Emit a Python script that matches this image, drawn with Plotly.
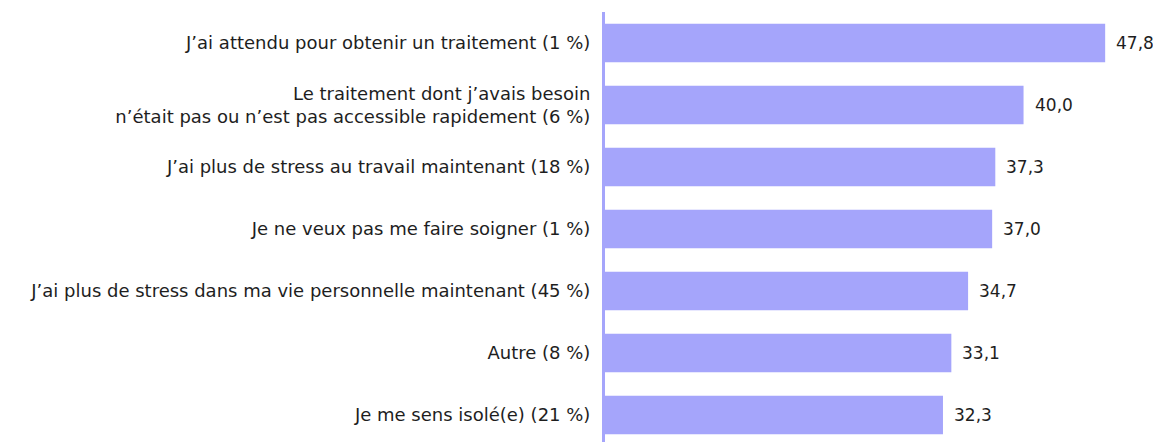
import plotly.graph_objects as go

categories = [
    "J’ai attendu pour obtenir un traitement (1 %)",
    "Le traitement dont j’avais besoin<br>n’était pas ou n’est pas accessible rapidement (6 %)",
    "J’ai plus de stress au travail maintenant (18 %)",
    "Je ne veux pas me faire soigner (1 %)",
    "J’ai plus de stress dans ma vie personnelle maintenant (45 %)",
    "Autre (8 %)",
    "Je me sens isolé(e) (21 %)",
]
values = [47.8, 40.0, 37.3, 37.0, 34.7, 33.1, 32.3]

BAR_COLOR = "#a5a5fb"
TEXT_COLOR = "#1e1e1e"
FONT = "DejaVu Sans, Arial, sans-serif"
FONT_SIZE = 18

positions = list(range(len(categories)))

fig = go.Figure(
    go.Bar(
        x=values,
        y=positions,
        orientation="h",
        marker={"color": BAR_COLOR, "line": {"width": 0}},
        hoverinfo="skip",
    )
)

# value labels just past the end of each bar
for pos, val in zip(positions, values):
    fig.add_annotation(
        x=val,
        y=pos,
        xref="x",
        yref="y",
        text=f"{val:.1f}".replace(".", ","),
        showarrow=False,
        xanchor="left",
        xshift=9,
        font={"size": 17, "color": TEXT_COLOR, "family": FONT},
    )

fig.update_layout(
    width=1161,
    height=442,
    paper_bgcolor="white",
    plot_bgcolor="white",
    bargap=0.38,
    showlegend=False,
    margin={"l": 597, "r": 0, "t": 4, "b": 0},
    font={"family": FONT, "size": FONT_SIZE, "color": TEXT_COLOR},
    xaxis={
        "range": [0, 53.9],
        "visible": False,
    },
    yaxis={
        "range": [6.565, -0.5],
        "tickmode": "array",
        "tickvals": positions,
        "ticktext": categories,
        "showgrid": False,
        "zeroline": False,
        "showline": True,
        "linecolor": BAR_COLOR,
        "linewidth": 3,
        "ticks": "",
        "ticklabelstandoff": 8,
        "automargin": False,
        "tickfont": {"size": FONT_SIZE, "color": TEXT_COLOR, "family": FONT},
    },
)

fig.write_html("out.html")
